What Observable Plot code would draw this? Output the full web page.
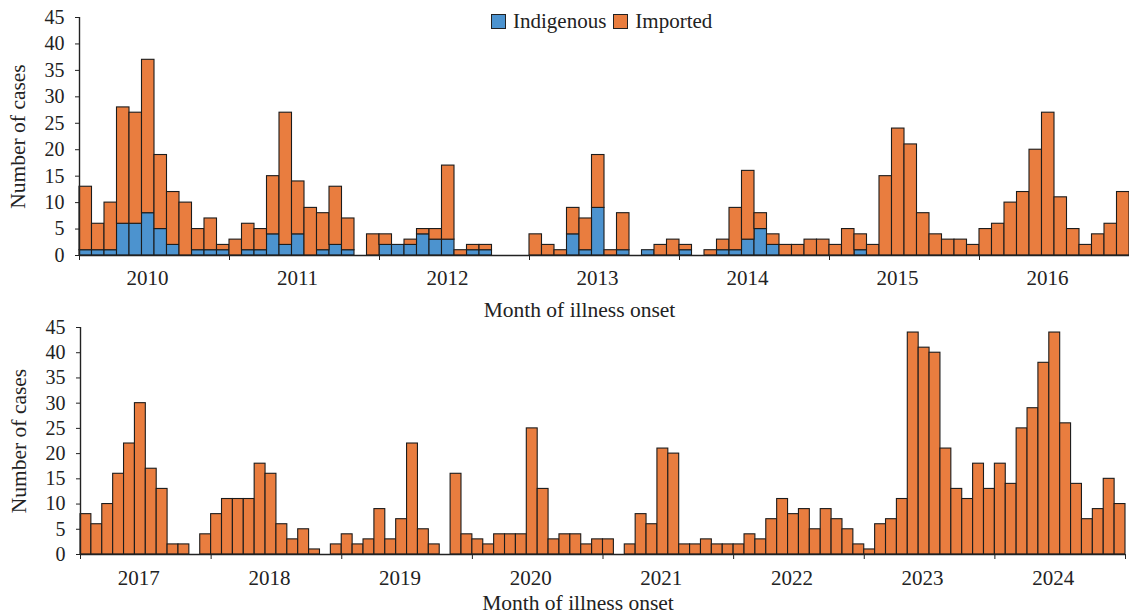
<!DOCTYPE html>
<html>
<head>
<meta charset="utf-8">
<script src="https://cdn.jsdelivr.net/npm/d3@7"></script>
<script src="https://cdn.jsdelivr.net/npm/@observablehq/plot@0.6"></script>
<style>
  body { margin: 0; background: #fff; font-family: "Liberation Serif", "Times New Roman", serif; }
  #wrap { position: relative; width: 1129px; height: 615px; overflow: hidden; }
  #top, #bottom { position: absolute; left: 0; }
  #top { top: 0; }
  #bottom { top: 320px; }
  #legend { position: absolute; left: 491px; top: 9px; display: flex; align-items: center;
            font-size: 21px; color: #222; white-space: nowrap; }
  .sw { width: 13px; height: 13px; border: 1px solid #222; display: inline-block; margin-right: 7px; }
  .lab { margin-right: 7px; }
</style>
</head>
<body>
<div id="wrap">
  <div id="top"></div>
  <div id="bottom"></div>
  <div id="legend">
    <span class="sw" style="background:#4C93CF"></span><span class="lab">Indigenous</span>
    <span class="sw" style="background:#E97D3F"></span><span class="lab">Imported</span>
  </div>
</div>
<script>
// ---- Data (monthly case counts) ----
const seriesNames = ["Indigenous", "Imported"];
const yTicks = [0, 5, 10, 15, 20, 25, 30, 35, 40, 45];

const yearsTop = ["2010", "2011", "2012", "2013", "2014", "2015", "2016"];
const indigenousTop = [
  1, 1, 1, 6, 6, 8, 5, 2, 0, 1, 1, 1,      // 2010
  0, 1, 1, 4, 2, 4, 0, 1, 2, 1, 0, 0,      // 2011
  2, 2, 2, 4, 3, 3, 0, 1, 1, 0, 0, 0,      // 2012
  0, 0, 0, 4, 1, 9, 0, 1, 0, 1, 0, 0,      // 2013
  1, 0, 0, 1, 1, 3, 5, 2, 0, 0, 0, 0,      // 2014
  0, 0, 1, 0, 0, 0, 0, 0, 0, 0, 0, 0,      // 2015
  0, 0, 0, 0, 0, 0, 0, 0, 0, 0, 0, 0       // 2016
];
const importedTop = [
  12, 5, 9, 22, 21, 29, 14, 10, 10, 4, 6, 1,   // 2010
  3, 5, 4, 11, 25, 10, 9, 7, 11, 6, 0, 4,      // 2011
  2, 0, 1, 1, 2, 14, 1, 1, 1, 0, 0, 0,         // 2012
  4, 2, 1, 5, 6, 10, 1, 7, 0, 0, 2, 3,         // 2013
  1, 0, 1, 2, 8, 13, 3, 2, 2, 2, 3, 3,         // 2014
  2, 5, 3, 2, 15, 24, 21, 8, 4, 3, 3, 2,       // 2015
  5, 6, 10, 12, 20, 27, 11, 5, 2, 4, 6, 12     // 2016
];

const yearsBottom = ["2017", "2018", "2019", "2020", "2021", "2022", "2023", "2024"];
const indigenousBottom = [
  0,0,0,0,0,0,0,0,0,0,0,0, 0,0,0,0,0,0,0,0,0,0,0,0,
  0,0,0,0,0,0,0,0,0,0,0,0, 0,0,0,0,0,0,0,0,0,0,0,0,
  0,0,0,0,0,0,0,0,0,0,0,0, 0,0,0,0,0,0,0,0,0,0,0,0,
  0,0,0,0,0,0,0,0,0,0,0,0, 0,0,0,0,0,0,0,0,0,0,0,0
];
const importedBottom = [
  8, 6, 10, 16, 22, 30, 17, 13, 2, 2, 0, 4,     // 2017
  8, 11, 11, 11, 18, 16, 6, 3, 5, 1, 0, 2,      // 2018
  4, 2, 3, 9, 3, 7, 22, 5, 2, 0, 16, 4,         // 2019
  3, 2, 4, 4, 4, 25, 13, 3, 4, 4, 2, 3,         // 2020
  3, 0, 2, 8, 6, 21, 20, 2, 2, 3, 2, 2,         // 2021
  2, 4, 3, 7, 11, 8, 9, 5, 9, 7, 5, 2,          // 2022
  1, 6, 7, 11, 44, 41, 40, 21, 13, 11, 18, 13,  // 2023
  18, 14, 25, 29, 38, 44, 26, 14, 7, 9, 15, 10  // 2024
];

const COLORS = { Indigenous: "#4C93CF", Imported: "#E97D3F" };
const FONT = "'Liberation Serif', 'Times New Roman', serif";

function panel(cfg) {
  const n = cfg.imp.length;
  const rows = cfg.imp.map((v, i) => ({ i, ind: cfg.ind[i], imp: v }));
  return Plot.plot({
    width: 1129,
    height: cfg.height,
    marginTop: cfg.marginTop,
    marginBottom: cfg.marginBottom,
    marginLeft: cfg.marginLeft,
    marginRight: cfg.marginRight,
    style: { fontFamily: FONT, fontSize: "20px", color: "#222", background: "transparent", overflow: "visible" },
    x: { domain: [0, n], axis: null },
    y: { domain: [0, 45], axis: null },
    marks: [
      Plot.rect(rows.filter(d => d.ind > 0), {
        x1: "i", x2: d => d.i + 1, y1: 0, y2: "ind",
        fill: COLORS[seriesNames[0]], stroke: "#1c1c1c", strokeWidth: 1.1
      }),
      Plot.rect(rows.filter(d => d.imp > 0), {
        x1: "i", x2: d => d.i + 1, y1: "ind", y2: d => d.ind + d.imp,
        fill: COLORS[seriesNames[1]], stroke: "#1c1c1c", strokeWidth: 1.1
      }),
      Plot.ruleX([0], { stroke: "#222", strokeWidth: 1.4 }),
      Plot.ruleY([0], { stroke: "#222", strokeWidth: 1.4 }),
      Plot.axisY(yTicks, { tickSize: 4, tickPadding: 11, fontSize: 20, label: null }),
      Plot.axisX(d3.range(0, n + 1, 12), { tickSize: 5, tickFormat: () => "", label: null }),
      Plot.axisX(cfg.years.map((y, k) => k * 12 + 6), {
        tickSize: 0, tickPadding: cfg.labelPad, fontSize: 21, label: null, dx: -7,
        tickFormat: v => cfg.years[(v - 6) / 12]
      }),
      Plot.text(["Month of illness onset"], {
        text: d => d, frameAnchor: "bottom", dx: -25, dy: cfg.titleDy,
        textAnchor: "middle", lineAnchor: "middle", fontSize: 21.5
      }),
      Plot.text(["Number of cases"], {
        text: d => d, frameAnchor: "left", dx: -61, rotate: -90,
        textAnchor: "middle", lineAnchor: "middle", fontSize: 21.5
      })
    ]
  });
}

document.getElementById("top").appendChild(panel({
  ind: indigenousTop, imp: importedTop, years: yearsTop,
  height: 320, marginTop: 17, marginBottom: 65, marginLeft: 79, marginRight: 0,
  labelPad: 15, titleDy: 55
}));

document.getElementById("bottom").appendChild(panel({
  ind: indigenousBottom, imp: importedBottom, years: yearsBottom,
  height: 295, marginTop: 7, marginBottom: 61, marginLeft: 80, marginRight: 4,
  labelPad: 16, titleDy: 49
}));
</script>
</body>
</html>
